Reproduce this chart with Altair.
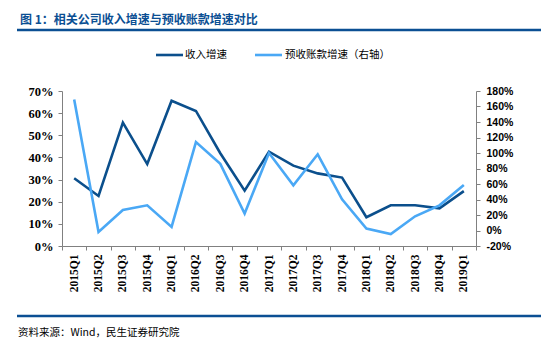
import altair as alt
import pandas as pd

quarters = ["2015Q1","2015Q2","2015Q3","2015Q4","2016Q1","2016Q2","2016Q3","2016Q4",
            "2017Q1","2017Q2","2017Q3","2017Q4","2018Q1","2018Q2","2018Q3","2018Q4","2019Q1"]
revenue_growth = [30.6, 22.6, 55.7, 37.0, 65.6, 61.0, 41.9, 25.0,
                  42.6, 36.3, 32.8, 30.9, 13.0, 18.4, 18.4, 17.0, 24.8]
advance_growth = [169.0, -2.0, 26.5, 32.5, 4.6, 114.0, 86.0, 21.8,
                  100.0, 58.3, 98.3, 40.3, 2.4, -4.5, 18.3, 32.5, 58.7]

title_text = "图 1：相关公司收入增速与预收账款增速对比"
legend_labels = ["收入增速", "预收账款增速（右轴）"]
source_text = "资料来源：Wind，民生证券研究院"
left_ticks = [0, 10, 20, 30, 40, 50, 60, 70]
right_ticks = [-20, 0, 20, 40, 60, 80, 100, 120, 140, 160, 180]

DARK = "#0b4f8c"
LIGHT = "#4aa8f5"
HEAD = "#0b4f93"

df = pd.DataFrame({"q": quarters, "rev": revenue_growth, "adv": advance_growth})
one = pd.DataFrame({"a": [0]})

x_enc = alt.X("q:N", sort=quarters, bandPosition=0.5,
              scale=alt.Scale(type="band", paddingInner=0, paddingOuter=0),
              axis=alt.Axis(title=None, labelAngle=270, tickBand="extent", tickSize=4,
                            labelPadding=4, labelFont="Liberation Serif", labelFontWeight="bold",
                            labelFontSize=11.5, labelColor="#000", domainColor="#808080",
                            tickColor="#808080"))

left = alt.Chart(df).mark_line(color=DARK, strokeWidth=2.6).encode(
    x=x_enc,
    y=alt.Y("rev:Q", scale=alt.Scale(domain=[0, 70], nice=False),
            axis=alt.Axis(title=None, values=left_ticks, labelExpr="datum.value + '%'",
                          grid=False, tickSize=4, labelPadding=5, labelFont="Liberation Serif",
                          labelFontWeight="bold", labelFontSize=12.5, labelColor="#000",
                          domainColor="#808080", tickColor="#808080"))
)

right = alt.Chart(df).mark_line(color=LIGHT, strokeWidth=2.6).encode(
    x=x_enc,
    y=alt.Y("adv:Q", scale=alt.Scale(domain=[-20, 180], nice=False),
            axis=alt.Axis(title=None, orient="right", values=right_ticks,
                          labelExpr="datum.value + '%'", grid=False, tickSize=4, labelPadding=6,
                          labelFont="Liberation Sans", labelFontWeight="bold", labelFontSize=10.5,
                          labelColor="#000", domainColor="#808080", tickColor="#808080"))
)

lines = alt.layer(left, right).resolve_scale(y="independent")

base = alt.Chart(one)
title = base.mark_text(align="left", baseline="middle", font="Noto Sans CJK SC",
                       fontWeight="bold", fontSize=12, color=HEAD).encode(
    x=alt.value(-42), y=alt.value(-71), text=alt.value(title_text))
top_rule = base.mark_rule(color=HEAD, strokeWidth=2.5).encode(
    x=alt.value(-45), x2=alt.value(479), y=alt.value(-61))
bot_rule = base.mark_rule(color=HEAD, strokeWidth=2.5).encode(
    x=alt.value(-45), x2=alt.value(479), y=alt.value(225))
src = base.mark_text(align="left", baseline="middle", font="Noto Sans CJK SC",
                     fontSize=10.5, color="#000").encode(
    x=alt.value(-44), y=alt.value(242), text=alt.value(source_text))
leg1_line = base.mark_rule(color=DARK, strokeWidth=2.6).encode(
    x=alt.value(94), x2=alt.value(121), y=alt.value(-36))
leg1_text = base.mark_text(align="left", baseline="middle", font="Noto Sans CJK SC",
                           fontSize=10.5, color="#000").encode(
    x=alt.value(123), y=alt.value(-36), text=alt.value(legend_labels[0]))
leg2_line = base.mark_rule(color=LIGHT, strokeWidth=2.6).encode(
    x=alt.value(193), x2=alt.value(220), y=alt.value(-36))
leg2_text = base.mark_text(align="left", baseline="middle", font="Noto Sans CJK SC",
                           fontSize=10.5, color="#000").encode(
    x=alt.value(223), y=alt.value(-36), text=alt.value(legend_labels[1]))

chart = alt.layer(lines, title, top_rule, bot_rule, src, leg1_line, leg1_text,
                  leg2_line, leg2_text).properties(
    width=414, height=155,
    autosize=alt.AutoSizeParams(type="none"),
    padding={"left": 62, "top": 91, "right": 81, "bottom": 106},
    background="white",
).configure_view(stroke=None)

chart.save("out.html", embed_options={"renderer": "svg", "actions": False})
